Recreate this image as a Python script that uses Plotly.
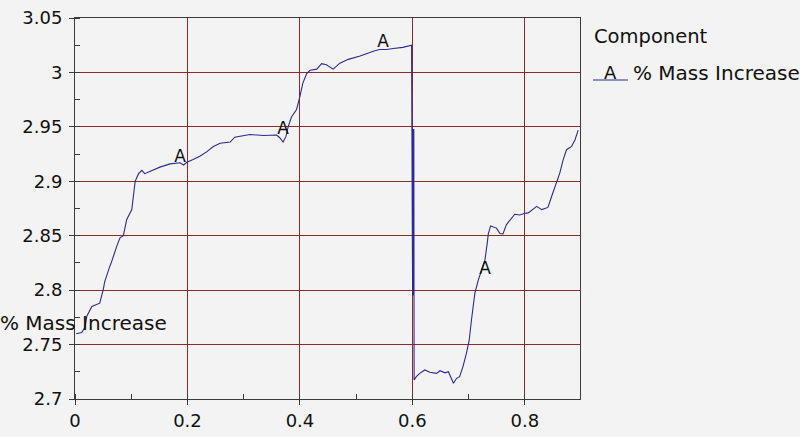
import plotly.graph_objects as go

# ---- data ----
time_x = [0.002, 0.012, 0.018, 0.021, 0.030, 0.044, 0.050, 0.053, 0.062, 0.065,
          0.074, 0.080, 0.086, 0.092, 0.101, 0.104, 0.107, 0.113, 0.119, 0.124,
          0.133, 0.151, 0.169, 0.187, 0.193, 0.199, 0.210, 0.222, 0.234, 0.246,
          0.258, 0.276, 0.284, 0.311, 0.335, 0.3585, 0.364, 0.370, 0.375, 0.379,
          0.385, 0.394, 0.400, 0.405, 0.412, 0.418, 0.430, 0.4385, 0.447, 0.459,
          0.471, 0.486, 0.507, 0.521, 0.533, 0.542, 0.554, 0.566, 0.583, 0.5985,
          0.5995, 0.6003, 0.6010, 0.6018, 0.6025, 0.6030,
          0.607, 0.613, 0.622, 0.631, 0.643, 0.649, 0.658, 0.664, 0.673, 0.6786,
          0.684, 0.690, 0.696, 0.701, 0.705, 0.711, 0.717, 0.723, 0.729, 0.733,
          0.735, 0.739, 0.7496, 0.7556, 0.761, 0.767, 0.776, 0.782, 0.791, 0.800,
          0.806, 0.812, 0.821, 0.830, 0.841, 0.8475, 0.856, 0.862, 0.868, 0.874,
          0.883, 0.889, 0.8948]
mass_increase = [2.760, 2.761, 2.766, 2.776, 2.785, 2.788, 2.800, 2.808, 2.822, 2.826,
                 2.840, 2.848, 2.850, 2.865, 2.874, 2.889, 2.900, 2.907, 2.910, 2.907,
                 2.909, 2.913, 2.916, 2.917, 2.915, 2.9175, 2.920, 2.923, 2.927, 2.932,
                 2.935, 2.936, 2.9405, 2.943, 2.942, 2.9425, 2.940, 2.936, 2.941, 2.950,
                 2.959, 2.966, 2.978, 2.990, 2.999, 3.002, 3.003, 3.008, 3.007, 3.003,
                 3.0085, 3.012, 3.015, 3.0177, 3.020, 3.021, 3.021, 3.022, 3.023, 3.025,
                 2.948, 2.795, 2.948, 2.795, 2.948, 2.7175,
                 2.7205, 2.7236, 2.7267, 2.7245, 2.7236, 2.726, 2.724, 2.725, 2.7144, 2.719,
                 2.7205, 2.730, 2.742, 2.754, 2.7726, 2.797, 2.809, 2.8186, 2.8278, 2.843,
                 2.852, 2.859, 2.857, 2.852, 2.8517, 2.860, 2.866, 2.8697, 2.869, 2.8707,
                 2.871, 2.8737, 2.877, 2.874, 2.876, 2.886, 2.898, 2.9075, 2.9197, 2.929,
                 2.932, 2.938, 2.947]

marker_x = [0.187, 0.370, 0.548, 0.729]
marker_y = [2.922, 2.947, 3.027, 2.819]
marker_label = "A"

x_tickvals = [0, 0.2, 0.4, 0.6, 0.8]
x_ticktext = ["0", "0.2", "0.4", "0.6", "0.8"]
y_tickvals = [2.7, 2.75, 2.8, 2.85, 2.9, 2.95, 3.0, 3.05]
y_ticktext = ["2.7", "2.75", "2.8", "2.85", "2.9", "2.95", "3", "3.05"]

series_name = "% Mass Increase"
legend_title = "Component"

# ---- styling ----
BG = "#f3f3f3"
LINE = "#2a2a96"
GRID = "#8e2a2a"
AXIS = "#3a3a3a"
TXT = "#111111"
FONT = "DejaVu Sans"

W, H = 800, 437
L, R, T, B = 75, 220, 18, 38
pw, ph = W - L - R, H - T - B


def px_x(p):
    return (p - L) / pw


def px_y(p):
    return (H - B - p) / ph


fig = go.Figure()
fig.add_trace(go.Scatter(x=time_x, y=mass_increase, mode="lines",
                         line=dict(color=LINE, width=1.1), showlegend=False,
                         name=series_name))
fig.add_trace(go.Scatter(x=marker_x, y=marker_y, mode="text",
                         text=[marker_label] * len(marker_x),
                         textposition="middle center",
                         textfont=dict(family=FONT, size=17, color=TXT),
                         showlegend=False, cliponaxis=False))

axis_common = dict(showline=True, linecolor=AXIS, linewidth=1, mirror=True,
                   showgrid=True, gridcolor=GRID, gridwidth=1.4,
                   ticks="outside", ticklen=5, tickcolor=AXIS,
                   tickfont=dict(family=FONT, size=18, color=TXT),
                   zeroline=False, tickmode="array", automargin=False)

fig.update_xaxes(range=[0, 0.898], tickvals=x_tickvals, ticktext=x_ticktext,
                 minor=dict(tick0=0, dtick=0.1, ticks="inside", ticklen=5,
                            tickcolor=AXIS, showgrid=False),
                 **axis_common)
fig.update_yaxes(range=[2.7, 3.05], tickvals=y_tickvals, ticktext=y_ticktext,
                 ticklabelstandoff=3,
                 minor=dict(tick0=2.7, dtick=0.025, ticks="inside", ticklen=5,
                            tickcolor=AXIS, showgrid=False),
                 **axis_common)

annos = [
    dict(text=series_name, x=px_x(168), y=px_y(323), xanchor="right", yanchor="middle",
         font=dict(family=FONT, size=20, color=TXT)),
    dict(text=legend_title, x=px_x(593), y=px_y(36), xanchor="left", yanchor="middle",
         font=dict(family=FONT, size=19.5, color=TXT)),
    dict(text=marker_label, x=px_x(610), y=px_y(72.5), xanchor="center", yanchor="middle",
         font=dict(family=FONT, size=18, color=TXT)),
    dict(text=series_name, x=px_x(632), y=px_y(72.5), xanchor="left", yanchor="middle",
         font=dict(family=FONT, size=20, color=TXT)),
]
for a in annos:
    a.update(xref="paper", yref="paper", showarrow=False, borderpad=0)

fig.update_layout(
    width=W, height=H,
    margin=dict(l=L, r=R, t=T, b=B, pad=0, autoexpand=False),
    paper_bgcolor=BG, plot_bgcolor=BG,
    annotations=annos,
    shapes=[dict(type="line", xref="paper", yref="paper",
                 x0=px_x(593), x1=px_x(628), y0=px_y(80), y1=px_y(80),
                 line=dict(color=LINE, width=1.2))],
    showlegend=False,
)

fig.write_html(
    "out.html",
    config={"displayModeBar": False},
    post_script=("document.body.style.margin='0';"
                 "document.body.style.overflow='hidden';"
                 "document.body.style.background='" + BG + "';"),
)
